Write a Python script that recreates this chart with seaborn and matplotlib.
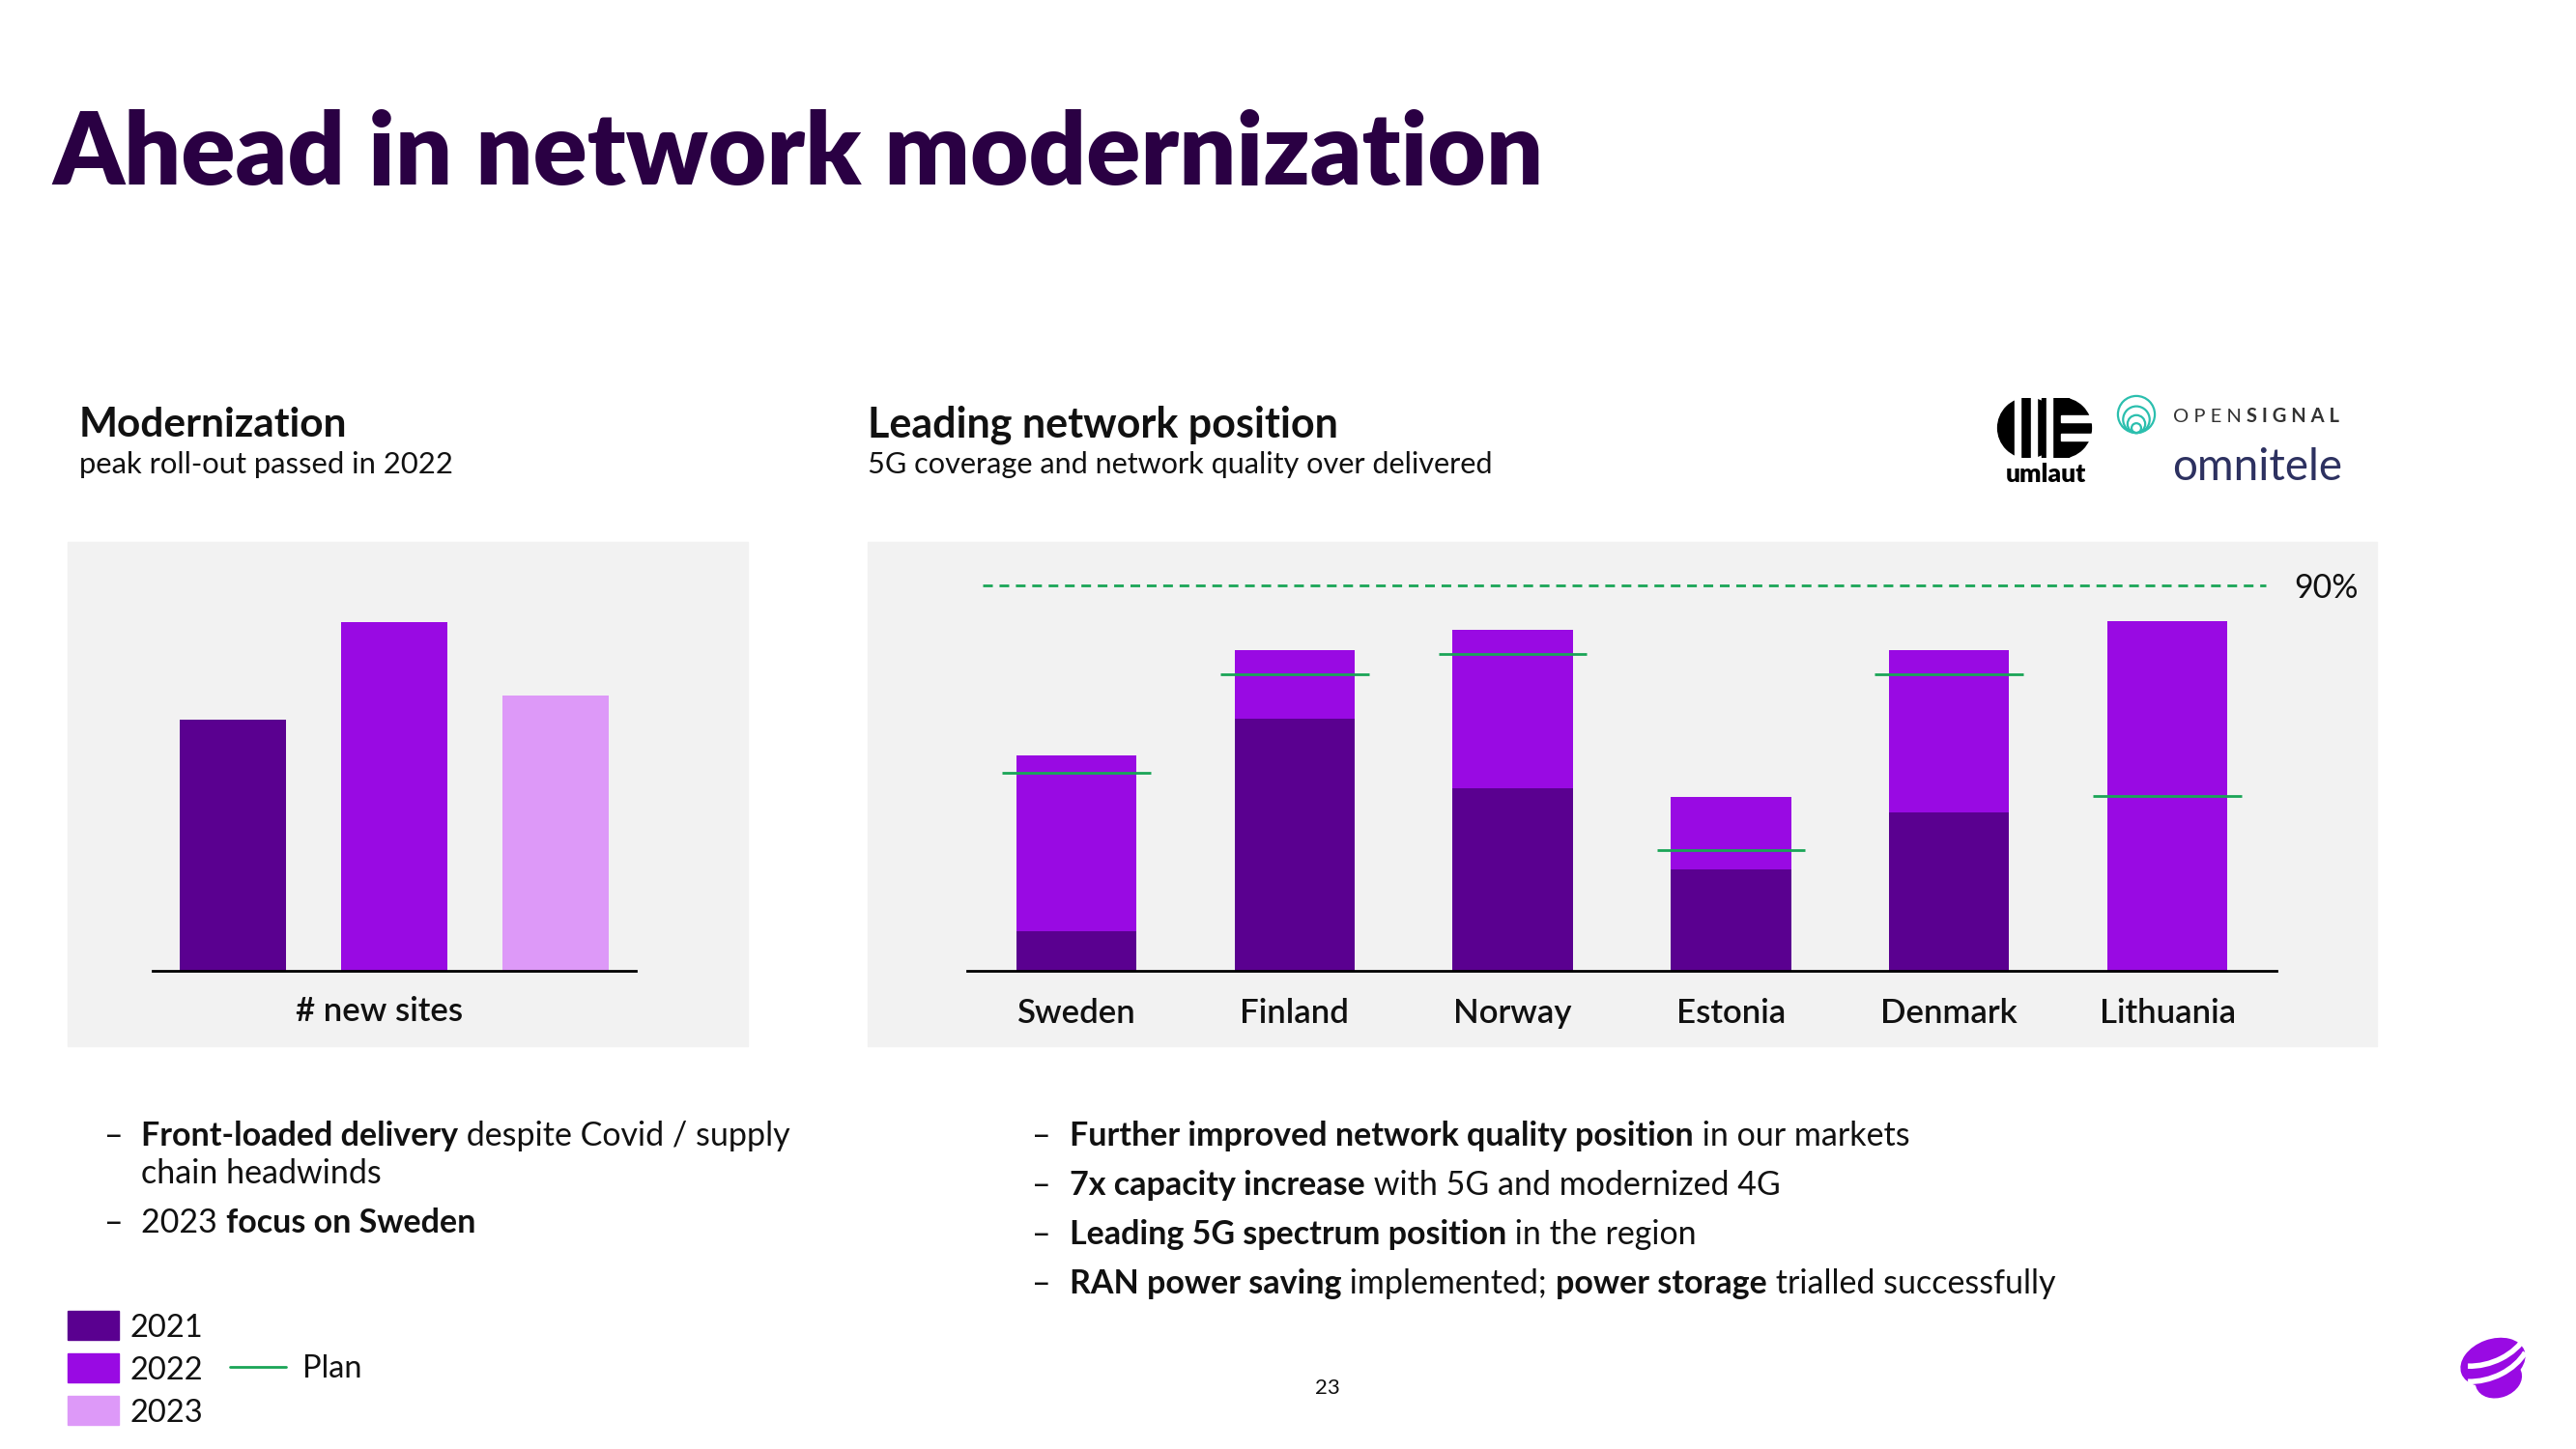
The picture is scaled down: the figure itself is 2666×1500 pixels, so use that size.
import numpy as np
import pandas as pd
import matplotlib
matplotlib.use("Agg")
import matplotlib.pyplot as plt
import seaborn as sns
from matplotlib.patches import Rectangle, Circle, Ellipse, Arc

sns.set_theme(style="white")
plt.rcParams["font.family"] = ["Lato", "DejaVu Sans"]

W, H = 2666, 1500

# Colours
DARK = "#5a0090"
CORE = "#990ae3"
LIGHT = "#dd99f8"
GREEN = "#1aa556"
TITLE = "#2a0043"
TEXT = "#111111"
GREY = "#f2f2f2"

# Left chart: new sites per year (relative, no axis shown)
years = ["2021", "2022", "2023"]
new_sites = [72, 100, 79]

# Right chart: 5G coverage (%)
countries = ["Sweden", "Finland", "Norway", "Estonia", "Denmark", "Lithuania"]
coverage_2021 = [9.2, 58.7, 42.5, 23.6, 36.9, 0]
coverage_2022 = [50.2, 74.9, 79.5, 40.6, 74.9, 81.5]
plan = [46.2, 69.1, 73.9, 28.2, 69.1, 40.7]
target = 90


def fx(x):
    return x / W


def fy(y):
    return 1 - y / H


fig = plt.figure(figsize=(W / 100, H / 100), dpi=100)
fig.patch.set_facecolor("white")
renderer = fig.canvas.get_renderer()


def rich_line(x, y, parts, size, color=TEXT):
    # draw text pieces one after the other on the same baseline
    for txt, weight in parts:
        t = fig.text(fx(x), fy(y), txt, fontsize=size, fontweight=weight,
                     color=color, va="baseline", ha="left")
        x += t.get_window_extent(renderer).width


# Grey panels
fig.patches.append(Rectangle((fx(70), fy(1083)), 704 / W, 522 / H,
                             transform=fig.transFigure, color=GREY, zorder=-2))
fig.patches.append(Rectangle((fx(898), fy(1083)), 1562 / W, 522 / H,
                             transform=fig.transFigure, color=GREY, zorder=-2))

# Title
fig.text(fx(54), fy(191), "Ahead in network modernization", fontsize=75,
         fontweight="heavy", color=TITLE, va="baseline")

# Sub headings
fig.text(fx(82), fy(452), "Modernization", fontsize=30.5, fontweight="bold",
         color=TEXT, va="baseline")
fig.text(fx(82), fy(490), "peak roll-out passed in 2022", fontsize=22.3,
         color=TEXT, va="baseline")
fig.text(fx(898), fy(452), "Leading network position", fontsize=31,
         fontweight="bold", color=TEXT, va="baseline")
fig.text(fx(898), fy(490), "5G coverage and network quality over delivered",
         fontsize=22.1, color=TEXT, va="baseline")

# Left chart
ax1 = fig.add_axes([fx(158), fy(1005), 500 / W, 425 / H])
df1 = pd.DataFrame({"year": years, "sites": new_sites})
sns.barplot(data=df1, x="year", y="sites", hue="year",
            palette=[DARK, CORE, LIGHT], width=0.66, saturation=1,
            legend=False, linewidth=0, ax=ax1)
ax1.set_xlim(-0.5, 2.5)
ax1.set_ylim(0, 100 * 425 / 361)
ax1.set_facecolor("none")
for s in ["top", "left", "right"]:
    ax1.spines[s].set_visible(False)
ax1.spines["bottom"].set_color("black")
ax1.spines["bottom"].set_linewidth(2)
ax1.set_xticks([])
ax1.set_yticks([])
ax1.set_xlabel("")
ax1.set_ylabel("")
fig.text(fx(393), fy(1047), "# new sites", fontsize=25, fontweight="semibold",
         color=TEXT, ha="center", va="center")

# Right chart
ax2 = fig.add_axes([fx(1001), fy(1005), 1355 / W, 425 / H])
df2 = pd.DataFrame({"country": countries, "y2021": coverage_2021,
                    "y2022": coverage_2022, "plan": plan})
sns.barplot(data=df2, x="country", y="y2022", color=CORE, width=0.55,
            saturation=1, linewidth=0, ax=ax2)
sns.barplot(data=df2, x="country", y="y2021", color=DARK, width=0.55,
            saturation=1, linewidth=0, ax=ax2)
pos = np.arange(len(countries))
ax2.hlines(df2["plan"], pos - 0.34, pos + 0.34, colors=GREEN, lw=2, zorder=5)
ax2.hlines(target, -0.43, 5.45, colors=GREEN, lw=2,
           linestyles=(0, (3.6, 2.5)), clip_on=False)
ax2.text(5.58, target - 0.8, f"{target}%", fontsize=24.5, color=TEXT,
         va="center", ha="left", clip_on=False)
ax2.set_xlim(-0.5, 5.5)
ax2.set_ylim(0, 90 * 425 / 399.5)
ax2.set_facecolor("none")
for s in ["top", "left", "right"]:
    ax2.spines[s].set_visible(False)
ax2.spines["bottom"].set_color("black")
ax2.spines["bottom"].set_linewidth(2)
ax2.set_yticks([])
ax2.set_xticks(pos)
ax2.set_xticklabels(countries, fontsize=25, fontweight="semibold", color=TEXT)
ax2.tick_params(axis="x", length=0, pad=20)
ax2.set_xlabel("")
ax2.set_ylabel("")

# Bullets left
fs = 24.5
fig.text(fx(108), fy(1186), "–", fontsize=fs, color=TEXT, va="baseline")
rich_line(146, 1186, [("Front-loaded delivery", "bold"),
                      (" despite Covid / supply", "normal")], fs)
rich_line(146, 1225, [("chain headwinds", "normal")], fs)
fig.text(fx(108), fy(1276), "–", fontsize=fs, color=TEXT, va="baseline")
rich_line(146, 1276, [("2023 ", "normal"), ("focus on Sweden", "bold")], fs)

# Bullets right
right_bullets = [
    [("Further improved network quality position", "bold"), (" in our markets", "normal")],
    [("7x capacity increase", "bold"), (" with 5G and modernized 4G", "normal")],
    [("Leading 5G spectrum position", "bold"), (" in the region", "normal")],
    [("RAN power saving", "bold"), (" implemented; ", "normal"),
     ("power storage", "bold"), (" trialled successfully", "normal")],
]
for i, parts in enumerate(right_bullets):
    yb = 1186 + i * 51
    fig.text(fx(1068), fy(yb), "–", fontsize=fs, color=TEXT, va="baseline")
    rich_line(1107, yb, parts, fs)

# Legend
legend_years = ["2021", "2022", "2023"]
legend_cols = [DARK, CORE, LIGHT]
for i, (lab, col) in enumerate(zip(legend_years, legend_cols)):
    yc = 1372 + i * 44
    fig.patches.append(Rectangle((fx(70), fy(yc + 15)), 53 / W, 30 / H,
                                 transform=fig.transFigure, color=col))
    fig.text(fx(134), fy(yc + 3), lab, fontsize=23.5, color=TEXT, va="center")
fig.lines.append(plt.Line2D([fx(238), fx(296)], [fy(1415), fy(1415)],
                            transform=fig.transFigure, color=GREEN, lw=2))
fig.text(fx(313), fy(1417), "Plan", fontsize=23.5, color=TEXT, va="center")

# Page number
fig.text(fx(1374), fy(1437), "23", fontsize=16, color=TEXT, ha="center",
         va="center")

# Logos (simple stand-ins)
axu = fig.add_axes([fx(2066), fy(474), 100 / W, 62 / H])
axu.set_xlim(-1.6, 1.6)
axu.set_ylim(-1, 1)
axu.axis("off")
axu.add_patch(Ellipse((-0.55, 0), 2.0, 2.0, color="black"))
axu.add_patch(Ellipse((0.55, 0), 2.0, 2.0, color="black"))
axu.add_patch(Rectangle((-0.1, -1), 0.9, 2.0, color="black"))
for xg in [-1.0, -0.45, 0.05]:
    axu.add_patch(Rectangle((xg, -1.1), 0.2, 2.2, color="white"))
for yg in [0.2, -0.42]:
    axu.add_patch(Rectangle((0.55, yg), 1.2, 0.22, color="white"))
fig.text(fx(2117), fy(499), "umlaut", fontsize=19, fontweight="heavy",
         color="black", ha="center", va="baseline")

axo = fig.add_axes([fx(2190), fy(450), 42 / W, 42 / H])
axo.set_xlim(-1.1, 1.1)
axo.set_ylim(-1.1, 1.1)
axo.set_aspect("equal")
axo.axis("off")
for r in [1.0, 0.72, 0.48, 0.26]:
    axo.add_patch(Circle((0, r - 1), r, fill=False, ec="#2bbfae", lw=1.6))
rich_line(2249, 437, [("O P E N ", "normal"), ("S I G N A L", "bold")], 14.5,
          color="#333333")
fig.text(fx(2336), fy(497), "omnitele", fontsize=33, fontweight="normal",
         color="#2d3160", ha="center", va="baseline")

# Telia mark
axt = fig.add_axes([fx(2540), fy(1450), 80 / W, 80 / H])
axt.set_xlim(-1, 1)
axt.set_ylim(-1, 1)
axt.set_aspect("equal")
axt.axis("off")
axt.add_patch(Ellipse((0, 0), 1.7, 1.15, angle=20, color=CORE))
axt.add_patch(Ellipse((0.15, -0.45), 1.2, 0.9, angle=20, color=CORE))
for yy in [-0.05, -0.45]:
    axt.add_patch(Arc((-0.3, yy + 0.9), 2.6, 1.8, angle=20, theta1=230,
                      theta2=330, color="white", lw=4))

fig.savefig("out.png", dpi=100, facecolor="white")
